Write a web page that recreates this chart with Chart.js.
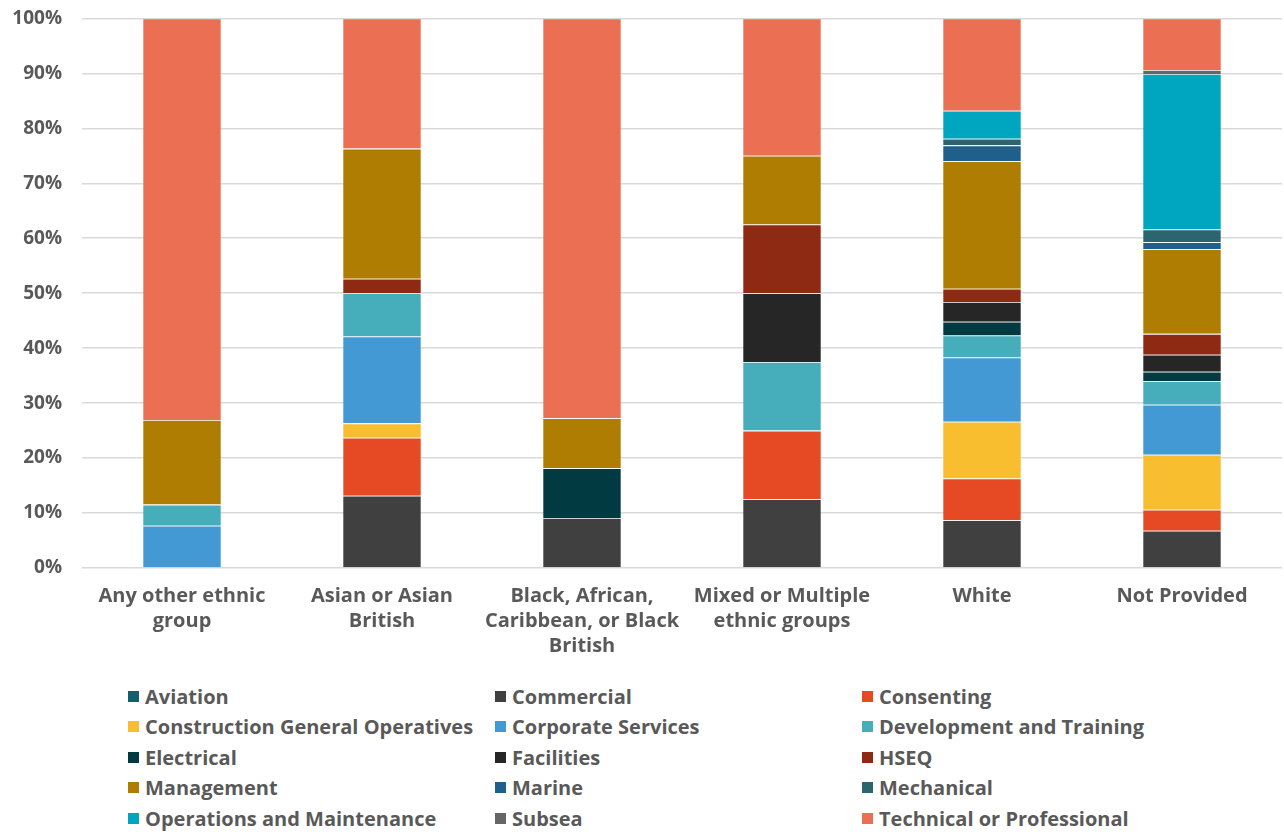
<!DOCTYPE html>
<html lang="en">
<head>
    <meta charset="UTF-8">
    <title>Job family by ethnic group</title>
    <script src="https://cdn.jsdelivr.net/npm/chart.js"></script>
    <style>
        body { margin: 0; background: #fff; font-family: "Open Sans", sans-serif; overflow: hidden; }
        .chart-box { position: absolute; left: 0; top: -13px; width: 1284px; height: 683px; }
        .legend {
            position: absolute; left: 128px; top: 684px;
            display: grid; grid-template-columns: 367px 367px 367px;
            row-gap: 6px;
        }
        .legend-item { display: flex; align-items: center; height: 24.5px;
            font-weight: 700; font-size: 20px; color: #595959; white-space: nowrap; }
        .swatch { width: 11px; height: 11px; margin-right: 6px; flex: none; }
    </style>
</head>
<body>
    <div class="chart-box"><canvas id="chart"></canvas></div>
    <div class="legend" id="legend"></div>

    <script>
        // categories
        const groups = [
            ['Any other ethnic', 'group'],
            ['Asian or Asian', 'British'],
            ['Black, African,', 'Caribbean, or Black', 'British'],
            ['Mixed or Multiple', 'ethnic groups'],
            'White',
            'Not Provided'
        ];

        const yTicks = [0, 10, 20, 30, 40, 50, 60, 70, 80, 90, 100];

        // share of each job family (%) per group, order as groups above
        const aviation     = [0, 0, 0, 0, 0, 0];
        const commercial   = [0, 13.16, 9.09, 12.5, 8.7, 6.8];
        const consenting   = [0, 10.53, 0, 12.5, 7.6, 3.8];
        const construction = [0, 2.63, 0, 0, 10.3, 10.0];
        const corporate    = [7.69, 15.79, 0, 0, 11.7, 9.1];
        const development  = [3.85, 7.89, 0, 12.5, 4.0, 4.3];
        const electrical   = [0, 0, 9.09, 0, 2.5, 1.7];
        const facilities   = [0, 0, 0, 12.5, 3.6, 3.1];
        const hseq         = [0, 2.63, 0, 12.5, 2.4, 3.8];
        const management   = [15.38, 23.68, 9.09, 12.5, 23.2, 15.4];
        const marine       = [0, 0, 0, 0, 2.9, 1.3];
        const mechanical   = [0, 0, 0, 0, 1.2, 2.3];
        const operations   = [0, 0, 0, 0, 5.1, 28.3];
        const subsea       = [0, 0, 0, 0, 0, 0.7];
        const technical    = [73.08, 23.69, 72.73, 25.0, 16.8, 9.4];

        const series = [
            ['Aviation', aviation, '#135f6d'],
            ['Commercial', commercial, '#404040'],
            ['Consenting', consenting, '#e64a25'],
            ['Construction General Operatives', construction, '#f9be2f'],
            ['Corporate Services', corporate, '#4299d4'],
            ['Development and Training', development, '#46adba'],
            ['Electrical', electrical, '#023a42'],
            ['Facilities', facilities, '#262626'],
            ['HSEQ', hseq, '#8e2914'],
            ['Management', management, '#ae7d02'],
            ['Marine', marine, '#1f5f8b'],
            ['Mechanical', mechanical, '#2b6670'],
            ['Operations and Maintenance', operations, '#00a6c0'],
            ['Subsea', subsea, '#666666'],
            ['Technical or Professional', technical, '#eb6f52']
        ];

        const textColor = '#595959';

        new Chart(document.getElementById('chart'), {
            type: 'bar',
            data: {
                labels: groups,
                datasets: series.map(([label, data, color]) => ({
                    label: label,
                    data: data,
                    backgroundColor: color,
                    borderColor: 'rgba(255,255,255,0.25)',
                    borderWidth: 0.8,
                    barPercentage: 0.395,
                    categoryPercentage: 1
                }))
            },
            options: {
                responsive: true,
                maintainAspectRatio: false,
                animation: false,
                layout: { padding: { top: 5, right: 2, left: 0, bottom: 0 } },
                plugins: {
                    legend: { display: false },
                    tooltip: { enabled: false }
                },
                scales: {
                    x: {
                        stacked: true,
                        grid: { display: false },
                        border: { display: false },
                        ticks: {
                            color: textColor,
                            font: { family: 'Open Sans', size: 20, weight: '700', lineHeight: 1.25 },
                            maxRotation: 0,
                            autoSkip: false,
                            padding: 8
                        },
                        afterFit: (scale) => { scale.height = 102; }
                    },
                    y: {
                        stacked: true,
                        min: 0,
                        max: 100,
                        afterBuildTicks: (scale) => { scale.ticks = yTicks.map(v => ({ value: v })); },
                        grid: { color: '#d9d9d9', lineWidth: 1.5, drawTicks: false },
                        border: { display: false },
                        ticks: {
                            color: textColor,
                            font: { family: 'Open Sans', size: 19, weight: '700' },
                            padding: 20,
                            callback: (v) => v + '%'
                        },
                        afterFit: (scale) => { scale.width = 82; }
                    }
                }
            }
        });

        // legend in three columns
        const legendEl = document.getElementById('legend');
        series.forEach(([label, , color]) => {
            const item = document.createElement('div');
            item.className = 'legend-item';
            item.innerHTML = '<span class="swatch" style="background:' + color + '"></span>' + label;
            legendEl.appendChild(item);
        });
    </script>
</body>
</html>
